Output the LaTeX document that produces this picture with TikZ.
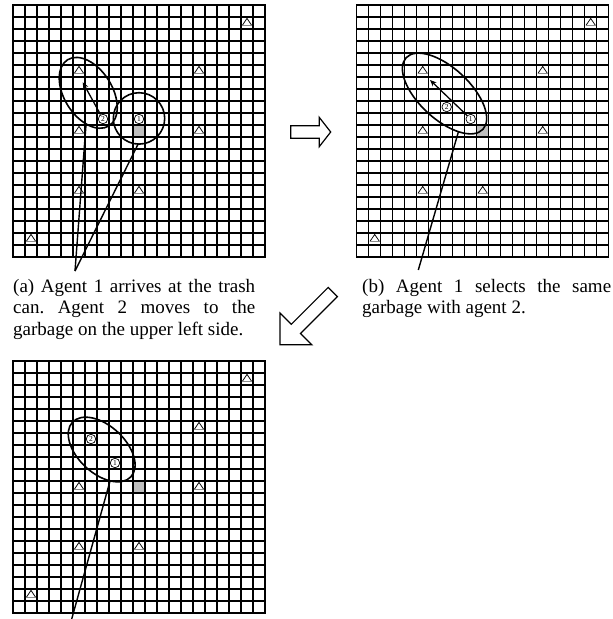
\documentclass[tikz,border=0pt]{standalone}
\usepackage{fontspec}
\setmainfont{Liberation Serif}
\usetikzlibrary{arrows.meta,shapes.geometric}

% 21 x 21 field of cells, drawn in cell units
\newcommand\fieldgrid{%
  \foreach \i in {0,...,21} {
    \draw[gridline] (\i,0) -- (\i,21);
    \draw[gridline] (0,\i) -- (21,\i);
  }
  \draw[gridline] (0,0) rectangle (21,21);
}

\begin{document}
\frenchspacing
\begin{tikzpicture}[x=1pt,y=-1pt,
  gridline/.style={line width=1.05pt,line cap=rect},
  cellgray/.style={fill=black!25},
  agent/.style={circle,draw,fill=white,line width=0.7pt,inner sep=0pt,
    minimum size=9.5pt,font=\fontsize{7.5}{7.5}\selectfont},
  ring/.style={draw,ellipse,line width=1.6pt,inner sep=0pt,outer sep=0pt},
  move/.style={line width=1.3pt,-{Stealth[length=6.5pt,width=5.5pt]}},
  pointer/.style={line width=1.4pt},
  block/.style={draw,line width=1.2pt,fill=white,line join=miter},
  caption/.style={anchor=base west,inner sep=0pt,font=\fontsize{19}{21}\selectfont},
  garbage/.pic={
    \fill[white] (-4.7pt,-2.4pt) -- (0pt,4.6pt) -- (4.7pt,-2.4pt) -- cycle;
    \draw[line width=0.75pt,line join=miter] (-4.7pt,-2.4pt) -- (0pt,4.6pt) -- (4.7pt,-2.4pt);
    \draw[black!45,line width=1.3pt] (-5pt,-2.7pt) -- (5pt,-2.7pt);
  }
]
\useasboundingbox (0,0) rectangle (613,619);

% ---------------- (a) ----------------
\begin{scope}[shift={(13pt,-5pt)},x=12pt,y=-12pt]
  \fill[cellgray] (10,10) rectangle (11,11);
  \fieldgrid
  \foreach \c/\r in {19/1,5/5,15/5,5/10,15/10,5/15,10/15,1/19}
    \pic at (\c+0.5,\r+0.5) {garbage};
  \node[ring,rotate=-58,minimum width=78pt,minimum height=48pt] (ea) at (6.27,7.32) {};
  \node[ring,circle,minimum size=51.4pt] (ca) at (10.5,9.45) {};
  \node[agent] (a2a) at (7.5,9.5) {2};
  \node[agent] (a1a) at (10.5,9.5) {1};
  \coordinate (gta) at (5.81,6.44);
  \draw[move] (a2a) -- (gta);
\end{scope}
\coordinate (pa) at (75,271);
\draw[pointer] (ea.324) -- (pa);
\draw[pointer] (ca.268) -- (pa);

% ---------------- (b) ----------------
\begin{scope}[shift={(356.7pt,-5pt)},x=12pt,y=-12pt]
  \fill[cellgray] (10,10) rectangle (11,11);
  \fieldgrid
  \foreach \c/\r in {19/1,5/5,15/5,5/10,15/10,5/15,10/15,1/19}
    \pic at (\c+0.5,\r+0.5) {garbage};
  \node[ring,rotate=-43,minimum width=105pt,minimum height=51pt] (eb) at (7.32,7.375) {};
  \coordinate (gtb) at (6.11,6.25);
  \node[agent] (a1b) at (9.5,9.5) {1};
  \draw[move] (a1b) -- (gtb);
  \node[agent] (a2b) at (7.5,8.5) {2};
\end{scope}
\coordinate (pb) at (418.3,270);
\draw[pointer] (eb.333) -- (pb);

% ---------------- (c) ----------------
\begin{scope}[shift={(13pt,-361pt)},x=12pt,y=-12pt]
  \fill[cellgray] (10,10) rectangle (11,11);
  \fieldgrid
  \foreach \c/\r in {19/1,15/5,5/10,15/10,5/15,10/15,1/19}
    \pic at (\c+0.5,\r+0.5) {garbage};
  \node[ring,rotate=-43,minimum width=80pt,minimum height=47.4pt] (ec) at (7.39,7.375) {};
  \node[agent] (a2c) at (6.5,6.5) {2};
  \node[agent] (a1c) at (8.5,8.5) {1};
\end{scope}
\coordinate (pc) at (71.7,619);
\draw[pointer] (ec.328) -- (pc);

% ---------------- step arrows ----------------
\draw[block] (290.7,125.8) -- (319.3,125.8) -- (319.3,117.4) -- (330.7,132)
  -- (319.3,146.6) -- (319.3,138.2) -- (290.7,138.2) -- cycle;
\draw[block] (328.2,287.4) -- (291.3,324.3) -- (280,313) -- (280,344.8)
  -- (311.8,344.8) -- (300.5,333.5) -- (337.4,296.6) -- cycle;

% ---------------- captions ----------------
\node[caption] (capa1) at (13,292) {\makebox[242pt][s]{(a) Agent 1 arrives at the trash}};
\node[caption] (capa2) at (13,313.5) {\makebox[242pt][s]{can. Agent 2 moves to the}};
\node[caption] (capa3) at (13,335) {garbage on the upper left side.};
\node[caption] (capb1) at (362,292) {\makebox[249pt][s]{(b) Agent 1 selects the same}};
\node[caption] (capb2) at (362,313.5) {garbage with agent 2.};
\end{tikzpicture}
\end{document}
